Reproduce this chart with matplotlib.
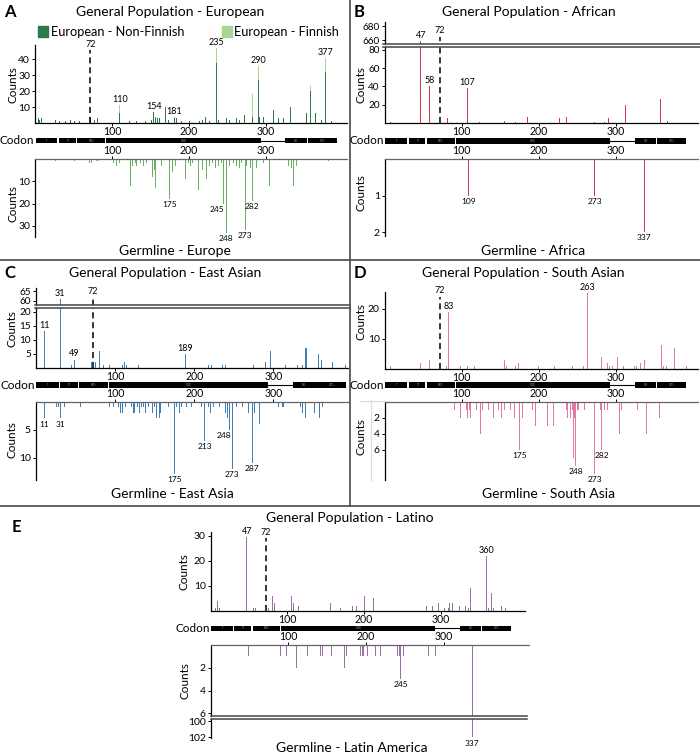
import matplotlib
matplotlib.use("Agg")
import matplotlib.pyplot as plt
from matplotlib.lines import Line2D
from matplotlib.patches import Rectangle

plt.rcParams["font.family"] = ["Lato", "DejaVu Sans"]

W, H = 700, 756

# ---- TP53 domain bar ----
dom_names = ["TI", "TII", "PRD", "DBD", "OD", "CTD"]
dom_start = [1, 31, 55, 92, 325, 354]
dom_end = [29, 53, 91, 293, 353, 392]
dom_gap = [293, 325]

# ---- A: European ----
eur_pos = [4, 6, 8, 9, 26, 32, 39, 46, 51, 58, 72, 77, 81, 110, 123, 132, 143,
           151, 154, 157, 159, 162, 170, 173, 181, 184, 190, 201, 213, 218, 221,
           227, 235, 238, 248, 253, 262, 265, 272, 282, 290, 292, 296, 310, 316,
           322, 332, 352, 358, 364, 372, 377, 385]
eur_nfe = [3, 2, 3, 3, 2, 1, 1, 2, 1, 1, 4, 2, 3, 6, 1, 1, 1,
           2, 7, 4, 3, 3, 10, 2, 3, 3, 1, 1, 1, 2, 4,
           1, 38, 2, 3, 2, 3, 2, 5, 4, 27, 4, 4, 8, 3,
           3, 10, 6, 20, 6, 2, 32, 1]
eur_fin = [0, 0, 0, 0, 0, 0, 0, 0, 0, 0, 0, 0, 0, 5, 0, 0, 0,
           0, 0, 0, 0, 0, 0, 0, 1, 0, 0, 0, 0, 0, 0,
           0, 9, 0, 0, 0, 0, 0, 0, 14, 9, 0, 0, 0, 0,
           0, 0, 0, 3, 0, 0, 9, 0]
eur_peaks = [110, 154, 181, 235, 290, 377]

eug_pos = [26, 51, 71, 73, 80, 83, 102, 106, 110, 124, 127, 130, 132, 137, 141,
           145, 152, 155, 157, 164, 175, 179, 182, 195, 199, 202, 205, 212, 218,
           222, 227, 230, 234, 238, 242, 245, 248, 253, 258, 262, 265, 268, 273,
           275, 280, 282, 288, 297, 304, 329, 333, 336, 340, 381]
eug_val = [1, 1, 2, 2, 1, 1, 2, 3, 2, 12, 3, 2, 3, 2, 3,
           2, 8, 5, 13, 3, 18, 6, 3, 9, 2, 3, 2, 14, 5,
           9, 3, 2, 4, 3, 2, 20, 33, 3, 2, 3, 4, 2, 32,
           3, 4, 19, 4, 2, 12, 3, 4, 12, 3, 1]
eug_peaks = [(175, "175"), (245, "245"), (282, "282"), (248, "248"), (273, "273")]

# ---- B: African ----
afr_pos = [8, 47, 58, 82, 107, 123, 156, 170, 185, 227, 236, 273, 286, 291, 313, 358, 368]
afr_val = [1, 658, 40, 6, 38, 1, 2, 1, 7, 6, 7, 1, 1, 6, 20, 26, 2]
afr_peaks = [58, 107]
afg_pos = [109, 273, 337]
afg_val = [1, 1, 2]

# ---- C: East Asian ----
eas_pos = [11, 31, 45, 49, 70, 76, 80, 85, 93, 110, 112, 115, 130, 189, 218, 222,
           236, 239, 275, 290, 296, 315, 330, 336, 341, 357, 360, 375, 391]
eas_val = [13, 61, 1, 3, 2, 2, 6, 1, 1, 1, 2, 1, 1, 5, 1, 1,
           1, 1, 1, 2, 6, 1, 1, 1, 7, 5, 3, 2, 1]
eas_peaks = [11, 49, 189]
eag_pos = [11, 26, 29, 31, 36, 56, 57, 93, 98, 105, 107, 110, 113, 121, 124, 128,
           131, 134, 136, 139, 142, 147, 150, 153, 156, 157, 167, 175, 178, 181,
           184, 190, 197, 209, 213, 218, 221, 224, 232, 239, 242, 245, 248, 253,
           261, 269, 273, 276, 282, 306, 312, 334, 337, 340, 352, 358, 362]
eag_val = [3, 1, 1, 3, 1, 1, 1, 1, 1, 1, 2, 2, 1, 1, 2, 1,
           2, 1, 1, 2, 1, 2, 1, 3, 3, 2, 1, 13, 1, 2,
           1, 1, 1, 1, 7, 1, 2, 1, 1, 2, 3, 5, 12, 1,
           1, 2, 11, 2, 4, 1, 1, 1, 2, 3, 2, 3, 1]
eag_peaks = [(11, "11"), (31, "31"), (175, "175"), (213, "213"),
             (245, "248"), (248, "273"), (273, "287")]

# ---- D: South Asian ----
sas_pos = [8, 47, 58, 80, 83, 99, 108, 117, 155, 158, 170, 174, 200, 220, 244, 258,
           263, 282, 290, 292, 296, 303, 310, 325, 327, 332, 338, 359, 362, 366, 376, 392]
sas_val = [1, 2, 3, 1, 19, 1, 1, 1, 3, 1, 1, 2, 1, 1, 1, 1,
           25.2, 4, 2, 1, 1, 4, 1, 1, 1, 2, 3, 8, 1, 1, 7, 1]
sas_peaks = [83, 263]
sag_pos = [91, 98, 106, 108, 110, 112, 119, 125, 127, 135, 141, 148, 152, 156, 163,
           168, 175, 179, 192, 196, 212, 219, 236, 238, 241, 244, 245, 247, 248, 250,
           252, 260, 273, 280, 282, 286, 290, 305, 308, 329, 340, 357]
sag_val = [1, 2, 1, 2, 1, 2, 1, 4, 1, 1, 2, 1, 2, 1, 1,
           2, 6, 2, 1, 3, 3, 3, 1, 2, 2, 1, 7, 2, 8, 1,
           1, 1, 9, 1, 6, 1, 1, 4, 1, 1, 4, 2]
sag_peaks = [(175, "175"), (248, "248"), (273, "273"), (282, "282")]

# ---- E: Latino ----
lat_pos = [6, 9, 11, 47, 56, 59, 76, 81, 83, 106, 108, 115, 156, 169, 185, 190, 201,
           213, 282, 289, 297, 305, 310, 311, 315, 324, 333, 336, 339, 360, 362, 366,
           369, 379, 384]
lat_val = [1, 4, 1, 29.5, 1, 1, 1, 6, 3, 6, 3, 2, 3, 1, 2, 2, 6,
           5, 2, 2, 3, 1, 1, 3, 3, 2, 2, 1, 9, 22, 1, 7,
           1, 2, 1]
lat_peaks = [47, 360]
lag_pos = [49, 90, 97, 110, 125, 142, 144, 155, 172, 175, 193, 195, 197, 202, 212,
           219, 240, 243, 245, 248, 281, 289, 337]
lag_val = [1, 1, 1, 2, 1, 1, 1, 1, 2, 1, 1, 1, 1, 1, 1,
           1, 1, 1, 3, 1, 1, 1, 102]
lag_peaks = [(245, "245"), (337, "337")]

C_EUR_NFE = "#2f7848"
C_EUR_FIN = "#a6d596"
C_EUR_G = "#66b461"
C_AFR = "#c63c50"
C_EAS = "#3f80b8"
C_SAS = "#e07aa5"
C_LAT = "#9c6fa8"

fig = plt.figure(figsize=(W / 100, H / 100), dpi=100)


def box(x0, y0, x1, y1):
    return [x0 / W, 1 - y1 / H, (x1 - x0) / W, (y1 - y0) / H]


def fx(x):
    return x / W


def fy(y):
    return 1 - y / H


def hline(x0, x1, y, color="#555555", lw=1.3):
    fig.add_artist(Line2D([fx(x0), fx(x1)], [fy(y), fy(y)], color=color, lw=lw))


def vline(x, y0, y1, color="#555555", lw=1.3):
    fig.add_artist(Line2D([fx(x), fx(x)], [fy(y0), fy(y1)], color=color, lw=lw))


def base_style(ax, xlim, ylim, yticks, tsize=7.5):
    ax.set_xlim(*xlim)
    ax.set_ylim(*ylim)
    ax.set_yticks(yticks)
    ax.patch.set_alpha(0)
    ax.spines["right"].set_visible(False)
    for s in ax.spines.values():
        s.set_linewidth(0.9)
    ax.tick_params(labelsize=tsize, length=2.5, width=0.7, pad=1)


def top_axes(x0, x1, y0, y1, xlim, ylim, yticks, xaxis=True, tsize=7.5):
    ax = fig.add_axes(box(x0, y0, x1, y1))
    base_style(ax, xlim, ylim, yticks, tsize)
    ax.spines["top"].set_visible(False)
    if xaxis:
        ax.set_xticks([100, 200, 300])
        ax.tick_params(axis="x", labelsize=7.6, length=2, pad=0.5)
    else:
        ax.set_xticks([])
        ax.spines["bottom"].set_visible(False)
    return ax


def bottom_axes(x0, x1, y0, y1, xlim, ylim, yticks, xaxis=True):
    ax = fig.add_axes(box(x0, y0, x1, y1))
    base_style(ax, xlim, ylim, yticks)
    ax.spines["bottom"].set_visible(False)
    if xaxis:
        ax.spines["top"].set_color("#666666")
        ax.xaxis.set_ticks_position("top")
        ax.set_xticks([100, 200, 300])
        ax.tick_params(axis="x", labelsize=7.6, length=2, pad=0.3)
    else:
        ax.spines["top"].set_visible(False)
        ax.set_xticks([])
    return ax


def codon_row(x0, x1, yc, xlim):
    ax = fig.add_axes(box(x0, yc - 2.6, x1, yc + 2.6))
    ax.set_xlim(*xlim)
    ax.set_ylim(-1, 1)
    ax.axis("off")
    ax.plot(dom_gap, [0, 0], color="black", lw=0.8)
    for s, e, n in zip(dom_start, dom_end, dom_names):
        ax.add_patch(Rectangle((s, -1), e - s, 2, color="black", lw=0))
        ax.text((s + e) / 2, 0, n, color="#999999", fontsize=2.0, ha="center", va="center")
    fig.text(fx(x0 - 0.5), fy(yc), "Codon", ha="right", va="center", fontsize=8.5)


def bars(ax, pos, val, color, bottom=None):
    ax.bar(pos, val, width=1.3, color=color, linewidth=0, bottom=bottom)


def peak_up(ax, x, v, text, dx=0, size=6.5):
    ax.annotate(text, (x, v), xytext=(dx, 0.8), textcoords="offset points",
                ha="center", va="bottom", fontsize=size, annotation_clip=False)


def peak_down(ax, x, v, text, dx=0, size=6):
    ax.annotate(text, (x, v), xytext=(dx, -1.5), textcoords="offset points",
                ha="center", va="top", fontsize=size, annotation_clip=False)


def dashed72(axes, h):
    for ax in axes:
        ax.plot([72, 72], [0, h], color="black", lw=1.1, ls=(0, (4, 2.5)))
    peak_up(axes[-1], 72, h, "72")


def counts(x, y):
    fig.text(fx(x), fy(y), "Counts", rotation=90, ha="center", va="center", fontsize=8.5)


def title(x, y, text):
    fig.text(fx(x), fy(y), text, ha="center", va="center", fontsize=10)


def letter(x, y, text):
    fig.text(fx(x), fy(y), text, ha="left", va="center", fontsize=12, fontweight="bold")


def label_of(pos, val, p):
    return val[pos.index(p)]


# ================= Panel A =================
letter(4, 12, "A")
title(170, 12, "General Population - European")
fig.add_artist(Rectangle((fx(38), fy(37)), 10 / W, 11 / H, color=C_EUR_NFE, transform=fig.transFigure))
fig.text(fx(51), fy(31.5), "European - Non-Finnish", ha="left", va="center", fontsize=9.2)
fig.add_artist(Rectangle((fx(222), fy(37)), 10 / W, 11 / H, color=C_EUR_FIN, transform=fig.transFigure))
fig.text(fx(234), fy(31.5), "European - Finnish", ha="left", va="center", fontsize=9.2)

xl_a = (0, 405)
ax = top_axes(35, 347, 45, 123, xl_a, (0, 49), [10, 20, 30, 40])
bars(ax, eur_pos, eur_nfe, C_EUR_NFE)
bars(ax, eur_pos, eur_fin, C_EUR_FIN, bottom=eur_nfe)
dashed72([ax], 46)
for p in eur_peaks:
    i = eur_pos.index(p)
    peak_up(ax, p, eur_nfe[i] + eur_fin[i], str(p))
counts(13, 85)
codon_row(35, 347, 140.5, xl_a)
ax = bottom_axes(35, 347, 159, 237, xl_a, (35, 0), [10, 20, 30])
bars(ax, eug_pos, eug_val, C_EUR_G)
for p, t in eug_peaks:
    dx = -5 if t == "245" else 0
    peak_down(ax, p, label_of(eug_pos, eug_val, p), t, dx=dx)
counts(13, 204)
title(175, 251, "Germline - Europe")

# ================= Panel B =================
letter(354, 12, "B")
title(529, 12, "General Population - African")
xl_b = (0, 407)
ax_u = top_axes(384.7, 698, 22, 43.5, xl_b, (655, 686), [660, 680], xaxis=False, tsize=7.2)
ax_l = top_axes(384.7, 698, 47, 123, xl_b, (0, 83), [20, 40, 60, 80], tsize=7.2)
for a in (ax_u, ax_l):
    bars(a, afr_pos, afr_val, C_AFR)
dashed72([ax_l, ax_u], 665)
peak_up(ax_u, 47, afr_val[afr_pos.index(47)], "47")
for p in afr_peaks:
    peak_up(ax_l, p, label_of(afr_pos, afr_val, p), str(p))
hline(383, 700, 44.2, color="#444444", lw=1.1)
hline(383, 700, 46.6, color="#444444", lw=1.1)
counts(361, 85)
codon_row(384.7, 698, 141, xl_b)
ax = bottom_axes(384.7, 698, 159, 236, xl_b, (2.1, 0), [1, 2])
bars(ax, afg_pos, afg_val, C_AFR)
for p, v in zip(afg_pos, afg_val):
    peak_down(ax, p, v, str(p))
counts(361, 193)
title(533, 251, "Germline - Africa")

# ================= Panel C =================
letter(4, 273, "C")
title(165, 273, "General Population - East Asian")
xl_c = (0, 394)
ax_u = top_axes(35.7, 348, 288, 305, xl_c, (57.8, 66.7), [60, 65], xaxis=False, tsize=7.2)
ax_l = top_axes(35.7, 348, 308, 368, xl_c, (0, 21.3), [5, 10, 15, 20], tsize=7.2)
for a in (ax_u, ax_l):
    bars(a, eas_pos, eas_val, C_EAS)
dashed72([ax_l, ax_u], 62)
peak_up(ax_u, 31, eas_val[eas_pos.index(31)], "31")
for p in eas_peaks:
    peak_up(ax_l, p, label_of(eas_pos, eas_val, p), str(p))
hline(35, 350, 305.3, color="#444444", lw=1.1)
hline(35, 350, 307.5, color="#444444", lw=1.1)
counts(12, 329)
codon_row(35.7, 348, 385, xl_c)
ax = bottom_axes(35.7, 348, 401.7, 480, xl_c, (14, 0), [5, 10])
bars(ax, eag_pos, eag_val, C_EAS)
for p, t in eag_peaks:
    dx = -4 if t == "248" else 0
    peak_down(ax, p, label_of(eag_pos, eag_val, p), t, dx=dx)
counts(12, 440)
title(172, 494, "Germline - East Asia")

# ================= Panel D =================
letter(354, 273, "D")
title(523, 273, "General Population - South Asian")
xl_d = (0, 407)
ax = top_axes(384.7, 698, 292, 369, xl_d, (0, 25.5), [10, 20])
bars(ax, sas_pos, sas_val, C_SAS)
dashed72([ax], 24)
for p in sas_peaks:
    peak_up(ax, p, label_of(sas_pos, sas_val, p), str(p))
counts(361, 322)
codon_row(384.7, 698, 385, xl_d)
ax = bottom_axes(384.7, 698, 402, 480, xl_d, (9.8, 0), [2, 4, 6])
bars(ax, sag_pos, sag_val, C_SAS)
for p, t in sag_peaks:
    peak_down(ax, p, label_of(sag_pos, sag_val, p), t)
vline(371, 400, 480, color="#dddddd", lw=0.9)
hline(360, 384, 401, color="#dddddd", lw=0.9)
counts(361, 437)
title(549, 494, "Germline - South Asia")

# ================= Panel E =================
letter(12, 527, "E")
title(350, 518, "General Population - Latino")
xl_e = (0, 410)
ax = top_axes(210.7, 525, 531.7, 610.7, xl_e, (0, 31.6), [10, 20, 30])
bars(ax, lat_pos, lat_val, C_LAT)
dashed72([ax], 29)
for p in lat_peaks:
    peak_up(ax, p, label_of(lat_pos, lat_val, p), str(p))
counts(184, 572)
codon_row(210.7, 525, 628.3, xl_e)
ax_u = bottom_axes(210.7, 529, 645, 715.7, xl_e, (6.2, 0), [2, 4, 6])
ax_l = bottom_axes(210.7, 529, 719, 738.3, xl_e, (102.1, 99.7), [100, 102], xaxis=False)
for a in (ax_u, ax_l):
    bars(a, lag_pos, lag_val, C_LAT)
peak_down(ax_u, 245, label_of(lag_pos, lag_val, 245), "245")
peak_down(ax_l, 337, label_of(lag_pos, lag_val, 337), "337")
hline(211, 527, 716.3, color="#444444", lw=1.1)
hline(211, 527, 718.5, color="#444444", lw=1.1)
counts(185, 681)
title(352, 748, "Germline - Latin America")

# ---- panel dividers ----
vline(350, 0, 506)
hline(0, 700, 260)
hline(0, 700, 506)

fig.savefig("out.png", dpi=100)
